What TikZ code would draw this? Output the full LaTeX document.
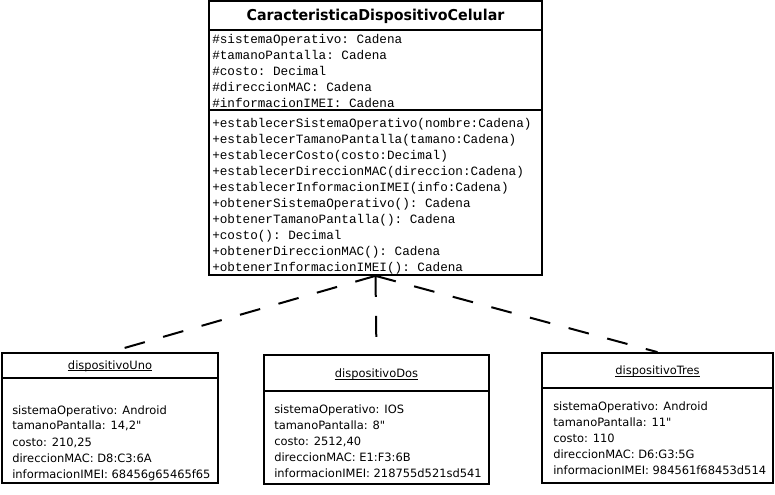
\documentclass[tikz,border=0pt]{standalone}
\usepackage{fontspec}
\setmainfont{DejaVu Sans}
\newfontfamily\objfont{DejaVu Sans}
\newfontfamily\titlefont{DejaVu Sans}[FakeStretch=0.95]
\setmonofont{Liberation Mono}
\begin{document}
\begin{tikzpicture}[x=0.75pt,y=-0.75pt,
  box/.style={draw, line width=1.3pt, fill=white, inner sep=0pt},
  sep/.style={line width=1.1pt},
  uline/.style={line width=0.75pt},
  dep/.style={line width=1.5pt, dash pattern=on 15.75pt off 14.25pt},
  mono/.style={font=\ttfamily\fontsize{9.5}{12}\selectfont, inner sep=0pt, anchor=base west},
  obj/.style={font=\objfont\fontsize{8.6}{12}\selectfont, inner sep=0pt, anchor=base west},
  objname/.style={font=\objfont\fontsize{8.6}{12}\selectfont, inner sep=0pt, anchor=base},
  ttl/.style={font=\titlefont\bfseries\fontsize{11.25}{13}\selectfont, inner sep=0pt, anchor=base}]
\useasboundingbox (0,0) rectangle (775,495);

% class box
\node[box, minimum width=333*0.75pt, minimum height=274*0.75pt] (cls) at (375.5,138) {};
\draw[sep] (209,30) -- (542,30);
\draw[sep] (209,110) -- (542,110);
\node[ttl] (title) at (375.5,21) {CaracteristicaDispositivoCelular};
\foreach \t [count=\i] in {\#sistemaOperativo: Cadena, \#tamanoPantalla: Cadena, \#costo: Decimal, \#direccionMAC: Cadena, \#informacionIMEI: Cadena}
  \node[mono] (attr\i) at (212,{44+16*(\i-1)}) {\t};
\foreach \t [count=\i] in {+establecerSistemaOperativo(nombre:Cadena), +establecerTamanoPantalla(tamano:Cadena), +establecerCosto(costo:Decimal), +establecerDireccionMAC(direccion:Cadena), +establecerInformacionIMEI(info:Cadena), +obtenerSistemaOperativo(): Cadena, +obtenerTamanoPantalla(): Cadena, +costo(): Decimal, +obtenerDireccionMAC(): Cadena, +obtenerInformacionIMEI(): Cadena}
  \node[mono] (op\i) at (212,{128+16*(\i-1)}) {\t};

% object boxes
\node[box, minimum width=216*0.75pt, minimum height=130*0.75pt] (uno) at (110,418) {};
\draw[sep] (2,378) -- (218,378);
\node[objname] (unoname) at (110,369) {dispositivoUno};
\draw[uline] ([yshift=-1.4pt]unoname.base west) -- ([yshift=-1.4pt]unoname.base east);
\foreach \t [count=\i] in {sistemaOperativo: Android, {tamanoPantalla: 14,2"}, {costo: 210,25}, direccionMAC: D8:C3:6A, informacionIMEI: 68456g65465f65}
  \node[obj] (unoattr\i) at (12,{414+16*(\i-1)}) {\t};

\node[box, minimum width=225*0.75pt, minimum height=129*0.75pt] (dos) at (376.5,419.5) {};
\draw[sep] (264,391) -- (489,391);
\node[objname] (dosname) at (376.5,377.5) {dispositivoDos};
\draw[uline] ([yshift=-1.4pt]dosname.base west) -- ([yshift=-1.4pt]dosname.base east);
\foreach \t [count=\i] in {sistemaOperativo: IOS, tamanoPantalla: 8", {costo: 2512,40}, direccionMAC: E1:F3:6B, informacionIMEI: 218755d521sd541}
  \node[obj] (dosattr\i) at (274,{413.5+16*(\i-1)}) {\t};

\node[box, minimum width=231*0.75pt, minimum height=130*0.75pt] (tres) at (657.5,418) {};
\draw[sep] (542,388) -- (773,388);
\node[objname] (tresname) at (657.5,375) {dispositivoTres};
\draw[uline] ([yshift=-1.4pt]tresname.base west) -- ([yshift=-1.4pt]tresname.base east);
\foreach \t [count=\i] in {sistemaOperativo: Android, tamanoPantalla: 11", costo: 110, direccionMAC: D6:G3:5G, informacionIMEI: 984561f68453d514}
  \node[obj] (tresattr\i) at (553,{410.5+16*(\i-1)}) {\t};

% connectors
\draw[dep] (cls.south) -- (uno.north);
\draw[dep] (cls.south) -- (dos.north);
\draw[dep] (cls.south) -- (tres.north);
\end{tikzpicture}
\end{document}
